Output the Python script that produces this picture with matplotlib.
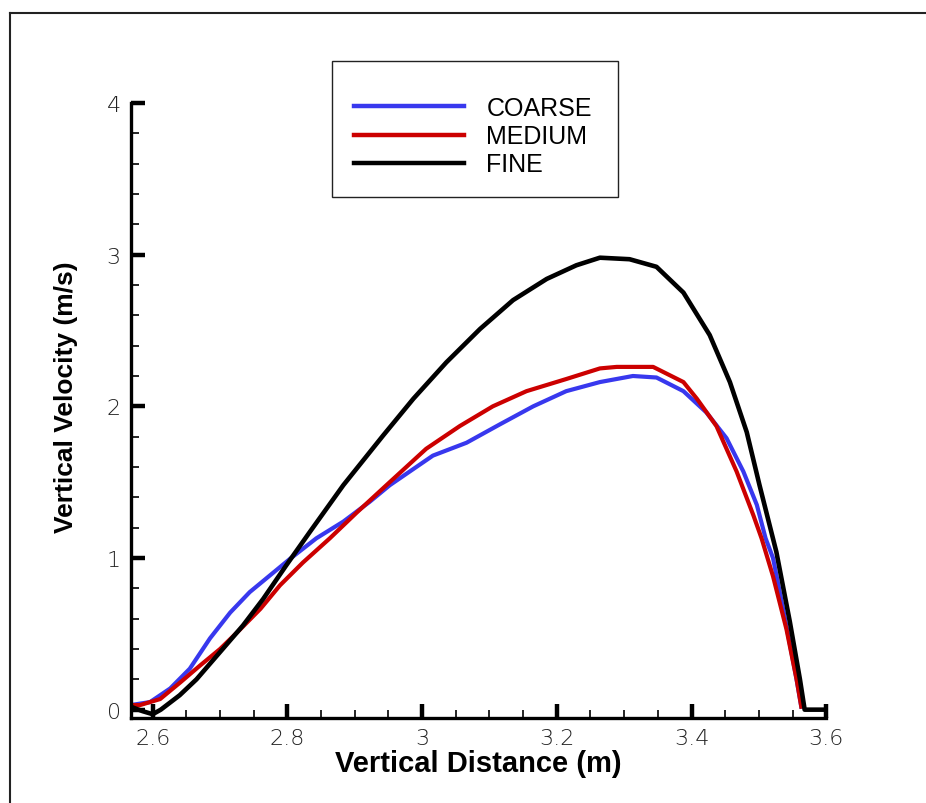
import matplotlib
matplotlib.use("Agg")
import matplotlib.pyplot as plt
from matplotlib.ticker import MultipleLocator
from matplotlib.lines import Line2D
from matplotlib.patches import Rectangle

# ---- data ----
coarse_x = [2.567, 2.596, 2.626, 2.655, 2.685, 2.715, 2.744, 2.774, 2.804, 2.843, 2.883,
            2.922, 2.952, 3.016, 3.066, 3.115, 3.165, 3.214, 3.264, 3.313, 3.348, 3.388,
            3.422, 3.452, 3.477, 3.497, 3.510, 3.521, 3.541, 3.556, 3.563]
coarse_y = [0.03, 0.05, 0.14, 0.27, 0.47, 0.64, 0.775, 0.885, 0.995, 1.13, 1.24,
            1.37, 1.48, 1.675, 1.76, 1.88, 2.00, 2.10, 2.16, 2.20, 2.19, 2.10,
            1.96, 1.79, 1.57, 1.35, 1.13, 1.00, 0.55, 0.20, 0.02]

medium_x = [2.567, 2.581, 2.611, 2.641, 2.670, 2.700, 2.730, 2.760, 2.789, 2.823, 2.863,
            2.903, 2.947, 3.006, 3.056, 3.105, 3.155, 3.214, 3.264, 3.289, 3.343, 3.388,
            3.408, 3.437, 3.467, 3.492, 3.504, 3.521, 3.541, 3.556, 3.563]
medium_y = [0.03, 0.03, 0.07, 0.18, 0.29, 0.40, 0.53, 0.665, 0.82, 0.97, 1.13,
            1.30, 1.48, 1.72, 1.87, 2.00, 2.10, 2.18, 2.25, 2.26, 2.26, 2.16,
            2.05, 1.87, 1.57, 1.28, 1.13, 0.88, 0.53, 0.20, 0.02]

fine_x = [2.567, 2.585, 2.600, 2.612, 2.640, 2.665, 2.700, 2.734, 2.764, 2.798, 2.833,
          2.883, 2.942, 2.987, 3.036, 3.086, 3.135, 3.185, 3.229, 3.264, 3.308, 3.348,
          3.388, 3.427, 3.457, 3.482, 3.501, 3.526, 3.546, 3.561, 3.568, 3.600]
fine_y = [0.02, -0.01, -0.03, 0.00, 0.095, 0.20, 0.38, 0.555, 0.73, 0.95, 1.17,
          1.48, 1.807, 2.05, 2.29, 2.51, 2.70, 2.84, 2.93, 2.98, 2.97, 2.92,
          2.75, 2.47, 2.16, 1.83, 1.48, 1.04, 0.58, 0.20, 0.00, 0.00]

labels = ["COARSE", "MEDIUM", "FINE"]
colors = ["#3838ee", "#cc0000", "#000000"]

W, H = 926, 804
fig = plt.figure(figsize=(W / 100, H / 100), dpi=100)

# outer frame (left and top edges visible)
fig.add_artist(Line2D([10 / W, 10 / W], [0, 1 - 14 / H], transform=fig.transFigure,
                      color="#222222", lw=1.5))
fig.add_artist(Line2D([10 / W, 1], [1 - 14 / H, 1 - 14 / H], transform=fig.transFigure,
                      color="#222222", lw=1.5))

left, right = 130.5 / W, 826.2 / W
bottom, top = 1 - 719 / H, 1 - 104 / H
ax = fig.add_axes([left, bottom, right - left, top - bottom])

ax.plot(coarse_x, coarse_y, color=colors[0], lw=3, label=labels[0], solid_joinstyle="round")
ax.plot(medium_x, medium_y, color=colors[1], lw=3, label=labels[1], solid_joinstyle="round")
ax.plot(fine_x, fine_y, color=colors[2], lw=3.3, label=labels[2], solid_joinstyle="round")

ax.set_xlim(2.567, 3.6)
ax.set_ylim(-0.055, 4.0)

for s in ["top", "right"]:
    ax.spines[s].set_visible(False)
for s in ["left", "bottom"]:
    ax.spines[s].set_linewidth(2.4)
    ax.spines[s].set_capstyle("projecting")

ax.xaxis.set_major_locator(MultipleLocator(0.2))
ax.xaxis.set_minor_locator(MultipleLocator(0.05))
ax.yaxis.set_major_locator(MultipleLocator(1))
ax.yaxis.set_minor_locator(MultipleLocator(0.2))
ax.tick_params(which="major", direction="in", length=10, width=3.2, pad=7,
               labelsize=16, labelcolor="#222222")
ax.tick_params(which="minor", direction="in", length=6, width=1.2)
ax.set_xticks([2.6, 2.8, 3.0, 3.2, 3.4, 3.6])
ax.set_xticklabels(["2.6", "2.8", "3", "3.2", "3.4", "3.6"])
ax.set_yticks([0, 1, 2, 3, 4])
ax.set_yticklabels(["0", "1", "2", "3", "4"])
for t in ax.get_xticklabels() + ax.get_yticklabels():
    t.set_family(["DejaVu Sans"])
    t.set_fontweight(200)

ax.set_xlabel("Vertical Distance (m)", family=["Liberation Sans", "DejaVu Sans"],
              fontweight="bold", fontsize=21)
ax.set_ylabel("Vertical Velocity (m/s)", family=["Liberation Sans", "DejaVu Sans"],
              fontweight="bold", fontsize=19)
ax.xaxis.set_label_coords(0.5, -31 / 615, transform=ax.transAxes)
ax.yaxis.set_label_coords(-53 / 695.7, (719 - 397) / 615, transform=ax.transAxes)

# legend box
fig.add_artist(Rectangle((332 / W, 1 - 198 / H), (618 - 332) / W, (198 - 62) / H,
                         transform=fig.transFigure, fill=False, edgecolor="#222222",
                         lw=1.0))
leg = ax.legend(loc="upper left", bbox_to_anchor=(354 / W, 1 - 97 / H),
                bbox_transform=fig.transFigure, frameon=False,
                prop={"family": ["Liberation Sans", "DejaVu Sans"], "size": 18},
                handlelength=4.4, handletextpad=0.9, labelspacing=0.17,
                borderpad=0, borderaxespad=0)
for l in leg.get_lines():
    l.set_linewidth(3.2)

fig.savefig("out.png", dpi=100)
